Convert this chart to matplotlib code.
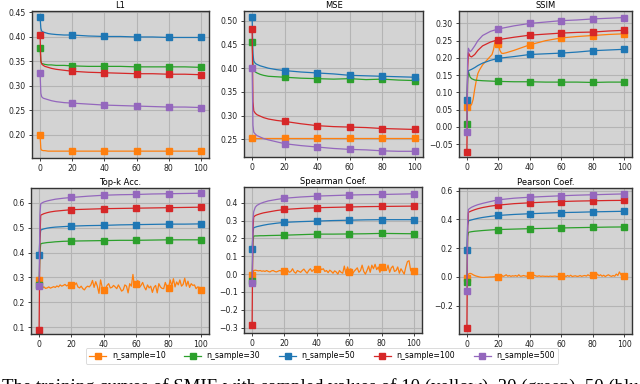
import matplotlib
matplotlib.use("Agg")
import matplotlib.pyplot as plt

# ---------------- data ----------------
LABELS = ["n_sample=10", "n_sample=30", "n_sample=50", "n_sample=100", "n_sample=500"]
COLORS = ["#ff7f0e", "#2ca02c", "#1f77b4", "#d62728", "#9467bd"]
TITLES = ["L1", "MSE", "SSIM", "Top-k Acc.", "Spearman Coef.", "Pearson Coef."]
MARK_X = [0, 20, 40, 60, 80, 100]

X = [0, 0.5, 1, 2, 3, 5, 7, 10, 15, 20, 30, 40, 50, 60, 70, 80, 90, 100]
X_FINE = list(range(101))
X_SSIM_10 = [0, 1, 2, 3, 4, 5, 6, 7, 8, 10, 12, 14, 16, 17, 18, 19, 20, 21, 22, 23,
             25, 30, 40, 50, 60, 70, 80, 90, 100]

# L1
L1_10 = [0.199, 0.172, 0.169, 0.168, 0.168, 0.167, 0.167, 0.167, 0.167, 0.167, 0.167,
         0.167, 0.167, 0.167, 0.167, 0.167, 0.167, 0.167]
L1_30 = [0.378, 0.350, 0.346, 0.345, 0.344, 0.343, 0.343, 0.342, 0.342, 0.341, 0.340,
         0.340, 0.340, 0.339, 0.339, 0.339, 0.339, 0.338]
L1_50 = [0.441, 0.418, 0.412, 0.410, 0.409, 0.407, 0.406, 0.405, 0.404, 0.404, 0.402,
         0.401, 0.401, 0.400, 0.400, 0.399, 0.399, 0.399]
L1_100 = [0.404, 0.352, 0.345, 0.342, 0.340, 0.338, 0.336, 0.334, 0.332, 0.330, 0.328,
          0.327, 0.326, 0.325, 0.325, 0.324, 0.324, 0.323]
L1_500 = [0.327, 0.285, 0.278, 0.275, 0.274, 0.272, 0.270, 0.268, 0.266, 0.265, 0.263,
          0.261, 0.260, 0.259, 0.258, 0.257, 0.257, 0.256]

# MSE
MSE_10 = [0.254, 0.254, 0.254, 0.254, 0.254, 0.254, 0.254, 0.254, 0.254, 0.254, 0.254,
          0.254, 0.254, 0.254, 0.254, 0.254, 0.254, 0.254]
MSE_30 = [0.455, 0.410, 0.397, 0.392, 0.390, 0.387, 0.385, 0.383, 0.382, 0.381, 0.379,
          0.378, 0.377, 0.378, 0.376, 0.377, 0.375, 0.374]
MSE_50 = [0.507, 0.430, 0.415, 0.410, 0.408, 0.405, 0.403, 0.400, 0.397, 0.395, 0.392,
          0.390, 0.388, 0.385, 0.384, 0.383, 0.382, 0.381]
MSE_100 = [0.482, 0.330, 0.310, 0.305, 0.302, 0.299, 0.296, 0.293, 0.290, 0.288, 0.283,
           0.279, 0.277, 0.276, 0.275, 0.273, 0.272, 0.271]
MSE_500 = [0.400, 0.280, 0.265, 0.261, 0.258, 0.255, 0.252, 0.249, 0.245, 0.241, 0.237,
           0.234, 0.231, 0.229, 0.228, 0.226, 0.225, 0.225]

# SSIM
SSIM_10 = [0.057, 0.058, 0.060, 0.065, 0.080, 0.110, 0.135, 0.155, 0.165, 0.180, 0.190,
           0.200, 0.210, 0.225, 0.250, 0.248, 0.240, 0.222, 0.214, 0.213, 0.215, 0.222,
           0.238, 0.250, 0.258, 0.262, 0.265, 0.268, 0.270]
SSIM_30 = [0.010, 0.140, 0.160, 0.145, 0.140, 0.136, 0.135, 0.134, 0.133, 0.132, 0.131,
           0.131, 0.130, 0.130, 0.130, 0.129, 0.130, 0.130]
SSIM_50 = [0.078, 0.150, 0.163, 0.165, 0.167, 0.172, 0.178, 0.185, 0.193, 0.199, 0.204,
           0.210, 0.212, 0.214, 0.217, 0.221, 0.223, 0.225]
SSIM_100 = [-0.072, 0.170, 0.215, 0.205, 0.203, 0.210, 0.222, 0.235, 0.246, 0.253, 0.260,
            0.266, 0.269, 0.272, 0.274, 0.275, 0.278, 0.280]
SSIM_500 = [-0.015, 0.200, 0.228, 0.218, 0.222, 0.235, 0.250, 0.265, 0.277, 0.284, 0.293,
            0.300, 0.304, 0.308, 0.310, 0.313, 0.315, 0.317]

# Top-k accuracy
TOPK_10 = [0.290, 0.262, 0.258, 0.262, 0.256, 0.258, 0.262, 0.257, 0.260, 0.263, 0.260,
           0.266, 0.262, 0.270, 0.265, 0.268, 0.272, 0.266, 0.270, 0.265, 0.268, 0.262,
           0.270, 0.278, 0.262, 0.258, 0.265, 0.255, 0.250, 0.260, 0.265, 0.262, 0.270,
           0.288, 0.260, 0.283, 0.265, 0.236, 0.290, 0.260, 0.248, 0.255, 0.268, 0.275,
           0.258, 0.260, 0.268, 0.262, 0.255, 0.270, 0.258, 0.245, 0.250, 0.270, 0.265,
           0.238, 0.275, 0.265, 0.312, 0.260, 0.272, 0.288, 0.260, 0.268, 0.280, 0.262,
           0.250, 0.270, 0.258, 0.265, 0.240, 0.260, 0.268, 0.238, 0.275, 0.262, 0.256,
           0.255, 0.280, 0.262, 0.258, 0.290, 0.265, 0.295, 0.262, 0.282, 0.270, 0.290,
           0.265, 0.272, 0.297, 0.265, 0.285, 0.260, 0.275, 0.268, 0.270, 0.255, 0.262,
           0.260, 0.250]
TOPK_30 = [0.270, 0.400, 0.435, 0.437, 0.438, 0.440, 0.441, 0.443, 0.445, 0.446, 0.447,
           0.448, 0.449, 0.449, 0.450, 0.451, 0.451, 0.451]
TOPK_50 = [0.390, 0.460, 0.490, 0.493, 0.495, 0.498, 0.500, 0.502, 0.504, 0.506, 0.508,
           0.509, 0.511, 0.512, 0.513, 0.514, 0.514, 0.515]
TOPK_100 = [0.090, 0.450, 0.550, 0.553, 0.556, 0.560, 0.563, 0.566, 0.569, 0.572, 0.574,
            0.576, 0.577, 0.578, 0.579, 0.580, 0.581, 0.582]
TOPK_500 = [0.265, 0.550, 0.595, 0.600, 0.603, 0.607, 0.610, 0.614, 0.618, 0.621, 0.626,
            0.630, 0.632, 0.633, 0.635, 0.636, 0.637, 0.638]

# Spearman
SP_10 = [-0.005, 0.020, 0.022, 0.020, 0.018, 0.020, 0.016, 0.018, 0.015, 0.020, 0.015,
         0.012, 0.018, 0.020, 0.015, 0.012, 0.016, 0.020, 0.018, 0.012, 0.015, 0.018,
         0.022, 0.010, 0.015, 0.030, 0.012, 0.005, 0.020, 0.015, 0.010, 0.020, 0.028,
         0.015, 0.005, 0.020, 0.030, 0.015, 0.025, 0.020, 0.027, 0.022, 0.035, 0.025,
         0.030, 0.015, 0.020, 0.008, 0.022, 0.015, 0.005, 0.018, 0.012, 0.000, 0.020,
         0.010, 0.005, 0.045, 0.000, 0.040, 0.010, 0.030, 0.000, 0.015, 0.025, 0.035,
         0.010, 0.020, 0.050, 0.015, 0.000, 0.020, 0.045, 0.010, 0.050, 0.030, 0.055,
         0.025, 0.040, 0.010, 0.040, 0.055, 0.030, 0.020, 0.050, 0.010, 0.035, 0.045,
         0.015, 0.020, 0.040, 0.005, 0.030, 0.015, 0.000, 0.040, 0.070, 0.075, 0.020,
         0.010, 0.017]
SP_30 = [-0.040, 0.180, 0.213, 0.214, 0.214, 0.215, 0.215, 0.216, 0.217, 0.218, 0.221,
         0.224, 0.224, 0.225, 0.226, 0.228, 0.227, 0.226]
SP_50 = [0.143, 0.230, 0.260, 0.263, 0.266, 0.270, 0.274, 0.279, 0.285, 0.290, 0.294,
         0.297, 0.300, 0.302, 0.304, 0.305, 0.305, 0.305]
SP_100 = [-0.285, 0.250, 0.320, 0.328, 0.332, 0.338, 0.343, 0.348, 0.356, 0.362, 0.368,
          0.372, 0.374, 0.376, 0.378, 0.379, 0.380, 0.381]
SP_500 = [-0.050, 0.300, 0.350, 0.375, 0.385, 0.395, 0.402, 0.410, 0.418, 0.425, 0.432,
          0.437, 0.440, 0.443, 0.445, 0.446, 0.448, 0.450]

# Pearson
PE_10 = [-0.010, 0.020, 0.025, 0.022, 0.015, 0.010, 0.006, 0.003, 0.000, -0.002, -0.003,
         -0.003, -0.002, -0.002, -0.001, 0.000, 0.000, 0.001, 0.002, 0.003, 0.003, 0.005,
         0.012, 0.004, 0.008, 0.015, 0.005, 0.010, 0.004, 0.008, 0.006, 0.010, 0.004,
         0.015, 0.005, 0.006, 0.010, 0.007, 0.005, 0.010, 0.012, 0.010, 0.008, 0.012,
         0.006, 0.005, 0.008, 0.004, 0.006, 0.005, 0.004, 0.005, 0.003, 0.006, 0.004,
         0.005, 0.006, 0.004, 0.003, 0.005, 0.005, 0.004, 0.010, 0.003, 0.010, 0.004,
         0.012, 0.003, 0.006, 0.008, 0.004, 0.005, 0.010, 0.004, 0.008, 0.010, 0.006,
         0.015, 0.008, 0.012, 0.015, 0.010, 0.005, 0.020, 0.008, 0.015, 0.005, 0.012,
         0.003, 0.010, 0.015, 0.008, 0.004, 0.010, 0.005, 0.020, 0.010, 0.035, 0.015,
         0.004, 0.005]
PE_30 = [-0.035, 0.280, 0.310, 0.313, 0.315, 0.318, 0.320, 0.323, 0.327, 0.330, 0.333,
         0.336, 0.338, 0.341, 0.343, 0.345, 0.347, 0.348]
PE_50 = [0.185, 0.360, 0.390, 0.394, 0.397, 0.403, 0.408, 0.414, 0.422, 0.428, 0.435,
         0.440, 0.444, 0.448, 0.450, 0.453, 0.455, 0.457]
PE_100 = [-0.355, 0.350, 0.450, 0.455, 0.460, 0.468, 0.475, 0.483, 0.493, 0.500, 0.510,
          0.516, 0.521, 0.525, 0.528, 0.530, 0.532, 0.533]
PE_500 = [-0.095, 0.400, 0.470, 0.478, 0.485, 0.495, 0.503, 0.512, 0.525, 0.537, 0.548,
          0.555, 0.560, 0.565, 0.569, 0.572, 0.575, 0.578]

PANELS = [
    [(X, L1_10), (X, L1_30), (X, L1_50), (X, L1_100), (X, L1_500)],
    [(X, MSE_10), (X, MSE_30), (X, MSE_50), (X, MSE_100), (X, MSE_500)],
    [(X_SSIM_10, SSIM_10), (X, SSIM_30), (X, SSIM_50), (X, SSIM_100), (X, SSIM_500)],
    [(X_FINE, TOPK_10), (X, TOPK_30), (X, TOPK_50), (X, TOPK_100), (X, TOPK_500)],
    [(X_FINE, SP_10), (X, SP_30), (X, SP_50), (X, SP_100), (X, SP_500)],
    [(X_FINE, PE_10), (X, PE_30), (X, PE_50), (X, PE_100), (X, PE_500)],
]
YLIMS = [(0.153, 0.453), (0.213, 0.5205), (-0.087, 0.336),
         (0.073, 0.659), (-0.33, 0.488), (-0.397, 0.619)]
YTICKS = [[0.20, 0.25, 0.30, 0.35, 0.40, 0.45],
          [0.25, 0.30, 0.35, 0.40, 0.45, 0.50],
          [-0.05, 0.00, 0.05, 0.10, 0.15, 0.20, 0.25, 0.30],
          [0.1, 0.2, 0.3, 0.4, 0.5, 0.6],
          [-0.3, -0.2, -0.1, 0.0, 0.1, 0.2, 0.3, 0.4],
          [-0.2, 0.0, 0.2, 0.4, 0.6]]
YFMT = ["{:.2f}", "{:.2f}", "{:.2f}", "{:.1f}", "{:.1f}", "{:.1f}"]
XTICKS = [0, 20, 40, 60, 80, 100]

CAPTION = ("The training curves of SMIE with sampled values of 10 (yellow), "
           "30 (green), 50 (blue), 100 (red) and 500 (purple).")

# ---------------- layout (pixels) ----------------
W, H = 640, 384
BOXES = [(32, 11, 209, 158), (244, 11, 423, 157), (459, 11, 632, 157),
         (31, 188, 209, 334), (244, 187, 422, 333), (459, 188, 632, 334)]

plt.rcParams["font.family"] = ["DejaVu Sans"]
plt.rcParams["font.size"] = 5.6
fig = plt.figure(figsize=(W / 100, H / 100), dpi=100)

handles = None
for i, (x0, y0, x1, y1) in enumerate(BOXES):
    ax = fig.add_axes([x0 / W, 1 - y1 / H, (x1 - x0) / W, (y1 - y0) / H])
    ax.set_facecolor("#d3d3d3")
    ax.set_axisbelow(True)
    ax.grid(True, color="#b4b4b4", linewidth=0.8)
    hs = []
    for (xs, ys), c, lab in zip(PANELS[i], COLORS, LABELS):
        idx = [xs.index(m) for m in MARK_X]
        h, = ax.plot(xs, ys, color=c, lw=0.9, marker="s", ms=3.8,
                     markevery=idx, label=lab)
        hs.append(h)
    if handles is None:
        handles = hs
    ax.set_xlim(-5, 105)
    ax.set_ylim(*YLIMS[i])
    ax.set_xticks(XTICKS)
    ax.set_yticks(YTICKS[i])
    ax.set_yticklabels([YFMT[i].format(v).replace("-", "\u2212") for v in YTICKS[i]])
    ax.tick_params(length=2.5, width=0.6, pad=2, colors="#222222", labelsize=5.6)
    for s in ax.spines.values():
        s.set_color("#333333")
        s.set_linewidth(1.0)
    ax.set_title(TITLES[i], fontsize=6.0, pad=2.5)

leg = fig.legend(handles, LABELS, loc="center", ncol=5,
                 bbox_to_anchor=(322 / W, 1 - 356 / H), fontsize=5.6,
                 frameon=True, handlelength=2.2, columnspacing=2.4,
                 borderpad=0.45, handletextpad=0.7)
leg.get_frame().set_edgecolor("#cccccc")
leg.get_frame().set_linewidth(0.6)

fig.text(2 / W, (H - 392) / H, CAPTION, family=["Liberation Serif"],
         fontsize=13.5, va="baseline", ha="left")

fig.savefig("out.png", dpi=100, facecolor="white")
